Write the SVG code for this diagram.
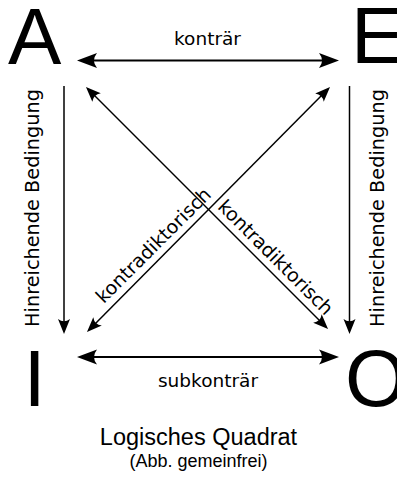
<svg xmlns="http://www.w3.org/2000/svg" width="397" height="477" viewBox="0 0 397 477">
  <style>
    .big { font-family: "Liberation Sans", Arial, sans-serif; font-size: 80px; fill: #000; }
    .lbl { font-family: "DejaVu Sans", "Liberation Sans", sans-serif; font-size: 18.5px; fill: #000; text-anchor: middle; }
    .vl { font-size: 19.3px; }
    .dl { font-size: 19px; }
    .cap { font-family: "Liberation Sans", Arial, sans-serif; fill: #000; text-anchor: middle; }
    .h { stroke: #000; stroke-width: 2; fill: none; marker-start: url(#ahH); marker-end: url(#ahH); }
    .v { stroke: #000; stroke-width: 1.5; fill: none; marker-end: url(#ah); }
    .d { stroke: #000; stroke-width: 1.5; fill: none; marker-start: url(#ah); marker-end: url(#ah); }
  </style>
  <defs>
    <marker id="ahH" markerUnits="userSpaceOnUse" orient="auto-start-reverse" refX="-5" refY="0" overflow="visible">
      <path d="M0,0 L-20,-7.5 Q-14,0 -20,7.5 Z" fill="#000"/>
    </marker>
    <marker id="ah" markerUnits="userSpaceOnUse" orient="auto-start-reverse" refX="-5" refY="0" overflow="visible">
      <path d="M0,0 L-15,-6 Q-10.5,0 -15,6 Z" fill="#000"/>
    </marker>
  </defs>
  <rect width="397" height="477" fill="#fff"/>

  <g id="node-A"><text class="big" x="8" y="64">A</text></g>
  <g id="node-E"><text class="big" x="351" y="63">E</text></g>
  <g id="node-I"><text class="big" x="23.5" y="406">I</text></g>
  <g id="node-O"><text class="big" x="345" y="406">O</text></g>

  <g id="connectors">
    <line class="h" x1="82" y1="60.5" x2="334" y2="60.5"/>
    <line class="h" x1="82" y1="357" x2="334" y2="357"/>
    <line class="v" x1="64" y1="86" x2="64" y2="329"/>
    <line class="v" x1="349.5" y1="86" x2="349.5" y2="329"/>
    <line class="d" x1="89.5" y1="90.5" x2="324.5" y2="325.5"/>
    <line class="d" x1="326.5" y1="90.5" x2="90.5" y2="328.5"/>
  </g>

  <g id="labels">
    <text class="lbl" x="207.5" y="45">konträr</text>
    <text class="lbl" x="208" y="387">subkonträr</text>
    <text class="lbl vl" transform="translate(39,208) rotate(-90)">Hinreichende Bedingung</text>
    <text class="lbl vl" transform="translate(384,208) rotate(-90)">Hinreichende Bedingung</text>
    <text class="lbl dl" transform="translate(158,250) rotate(-45)">kontradiktorisch</text>
    <text class="lbl dl" transform="translate(271,262) rotate(45)">kontradiktorisch</text>
  </g>

  <g id="caption">
    <text class="cap" x="198.5" y="445" font-size="23.5">Logisches Quadrat</text>
    <text class="cap" x="198.5" y="467" font-size="18">(Abb. gemeinfrei)</text>
  </g>
</svg>
